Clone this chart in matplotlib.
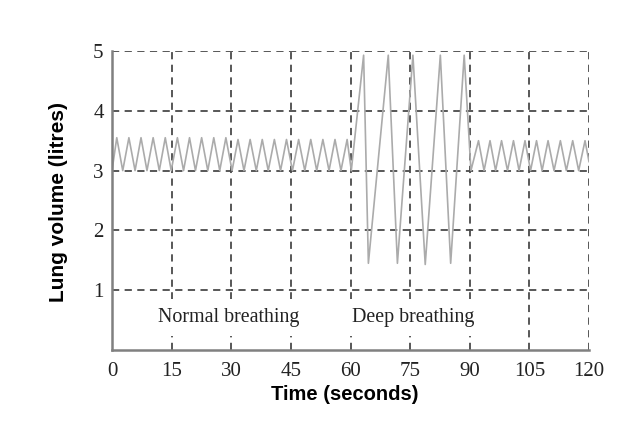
import numpy as np
import matplotlib.pyplot as plt

# ── DATA ──────────────────────────────────────────────────────────────────────

# normal breathing, 0-60 s: alternating trough / peak vertices
normal1_t = [0.0, 1.2, 2.7, 4.25, 5.8, 7.3, 8.8, 10.35, 11.9, 13.4, 14.9,
             16.45, 18.0, 19.5, 21.0, 22.55, 24.1, 25.6, 27.1, 28.65, 30.2,
             31.7, 33.2, 34.75, 36.3, 37.8, 39.3, 40.85, 42.4, 43.9, 45.4,
             46.95, 48.5, 50.0, 51.5, 53.05, 54.6, 56.1, 57.6, 59.15, 60.2]
normal1_v = [3.0, 3.55, 3.0, 3.55, 3.0, 3.55, 3.0, 3.55, 3.0, 3.55, 3.0,
             3.55, 3.0, 3.55, 3.0, 3.55, 3.0, 3.55, 3.0, 3.55, 3.0,
             3.52, 3.0, 3.52, 3.0, 3.52, 3.0, 3.52, 3.0, 3.52, 3.0,
             3.52, 3.0, 3.52, 3.0, 3.52, 3.0, 3.52, 3.0, 3.52, 3.0]

# deep breathing, 60-90 s
deep_t = [63.3, 64.5, 69.5, 71.8, 75.7, 78.8, 82.6, 85.2, 88.6, 90.3]
deep_v = [4.93, 1.45, 4.93, 1.45, 4.93, 1.43, 4.93, 1.45, 4.93, 3.0]

# back to normal breathing, 90-120 s
normal2_t = [92.2, 93.6, 95.1, 96.5, 98.0, 99.5, 101.0, 102.4, 103.9, 105.3,
             106.8, 108.2, 109.7, 111.2, 112.8, 114.3, 115.9, 117.4, 119.0,
             120.0]
normal2_v = [3.5, 3.0, 3.5, 3.0, 3.5, 3.0, 3.5, 3.0, 3.5, 3.0,
             3.5, 3.0, 3.5, 3.0, 3.5, 3.0, 3.5, 3.0, 3.5, 3.15]

x_ticks = [0, 15, 30, 45, 60, 75, 90, 105, 120]
y_ticks = [1, 2, 3, 4, 5]

# ─────────────────────────────────────────────────────────────────────────────

time = np.concatenate([normal1_t, deep_t, normal2_t])
volume = np.concatenate([normal1_v, deep_v, normal2_v])

fig = plt.figure(figsize=(6.37, 4.41), dpi=100)
ax = fig.add_axes([112 / 637, 91 / 441, 477 / 637, 299 / 441])

ax.plot(time, volume, color="#ababab", linewidth=1.2, zorder=2)

ax.set_xlim(0, 120)
ax.set_ylim(0, 5)
ax.set_xticks(x_ticks)
ax.set_yticks(y_ticks)
ax.grid(True, color="#4a4a4a", linestyle=(0, (4, 3)), linewidth=1.3, zorder=1)
ax.set_axisbelow(True)

for side in ("top", "right"):
    ax.spines[side].set_visible(False)
for side in ("left", "bottom"):
    ax.spines[side].set_color("#808080")
    ax.spines[side].set_linewidth(1.8)

ax.tick_params(length=0, labelsize=15, colors="#222222")
ax.tick_params(axis="x", pad=9)
ax.tick_params(axis="y", pad=6)
for lbl in ax.get_xticklabels() + ax.get_yticklabels():
    lbl.set_fontfamily("Liberation Serif")

ax.set_xlabel("Time (seconds)", fontsize=14.5, fontweight="bold",
              fontfamily="Liberation Sans")
ax.xaxis.set_label_coords(0.488, -0.118)
ax.set_ylabel("Lung volume (litres)", fontsize=15, fontweight="bold",
              fontfamily="Liberation Sans")
ax.yaxis.set_label_coords(-0.092, 0.495)

# phase labels, white box hides the grid behind them
box = dict(boxstyle="square,pad=0.45", facecolor="white", edgecolor="none")
ax.text(29.4, 0.55, "Normal breathing", ha="center", va="center",
        fontsize=14.4, fontfamily="Liberation Serif", color="#222222",
        bbox=box, zorder=3)
ax.text(75.8, 0.55, "Deep breathing", ha="center", va="center",
        fontsize=14.4, fontfamily="Liberation Serif", color="#222222",
        bbox=box, zorder=3)

fig.savefig("out.png", dpi=100)
